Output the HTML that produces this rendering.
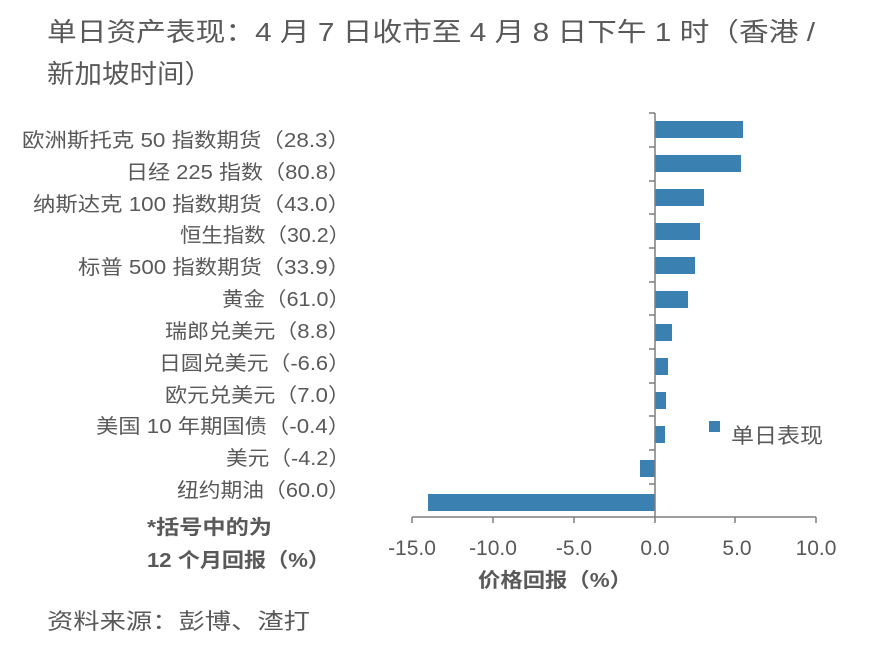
<!DOCTYPE html>
<html><head><meta charset="utf-8"><style>
body{margin:0;background:#fff;}
svg text{font-family:"Liberation Sans","Noto Sans CJK SC",sans-serif;fill:#595959;}
</style></head><body>
<svg width="874" height="656" xmlns="http://www.w3.org/2000/svg">
<text x="47" y="41" font-size="26" textLength="768" lengthAdjust="spacingAndGlyphs">单日资产表现：4 月 7 日收市至 4 月 8 日下午 1 时（香港 /</text>
<text x="47" y="83" font-size="26" textLength="165" lengthAdjust="spacingAndGlyphs">新加坡时间）</text>
<g font-size="20">
<text x="22" y="147" textLength="328" lengthAdjust="spacingAndGlyphs">欧洲斯托克 50 指数期货（28.3）</text>
<text x="126" y="179" textLength="224" lengthAdjust="spacingAndGlyphs">日经 225 指数（80.8）</text>
<text x="33" y="211" textLength="317" lengthAdjust="spacingAndGlyphs">纳斯达克 100 指数期货（43.0）</text>
<text x="180" y="242" textLength="170" lengthAdjust="spacingAndGlyphs">恒生指数（30.2）</text>
<text x="78" y="274" textLength="272" lengthAdjust="spacingAndGlyphs">标普 500 指数期货（33.9）</text>
<text x="222" y="306" textLength="128" lengthAdjust="spacingAndGlyphs">黄金（61.0）</text>
<text x="165" y="338" textLength="185" lengthAdjust="spacingAndGlyphs">瑞郎兑美元（8.8）</text>
<text x="159" y="370" textLength="191" lengthAdjust="spacingAndGlyphs">日圆兑美元（-6.6）</text>
<text x="165" y="402" textLength="185" lengthAdjust="spacingAndGlyphs">欧元兑美元（7.0）</text>
<text x="96" y="433" textLength="254" lengthAdjust="spacingAndGlyphs">美国 10 年期国债（-0.4）</text>
<text x="226" y="465" textLength="124" lengthAdjust="spacingAndGlyphs">美元（-4.2）</text>
<text x="177" y="497" textLength="173" lengthAdjust="spacingAndGlyphs">纽约期油（60.0）</text>
</g>
<g font-size="20" font-weight="bold">
<text x="147" y="534" textLength="125" lengthAdjust="spacingAndGlyphs">*括号中的为</text>
<text x="147" y="567" textLength="183" lengthAdjust="spacingAndGlyphs">12 个月回报（%）</text>
</g>
<text x="47" y="629" font-size="22" textLength="263" lengthAdjust="spacingAndGlyphs">资料来源：彭博、渣打</text>
<g fill="#3a80b0">
<rect x="655" y="121" width="88" height="17"/>
<rect x="655" y="155" width="86" height="17"/>
<rect x="655" y="189" width="49" height="17"/>
<rect x="655" y="223" width="45" height="17"/>
<rect x="655" y="257" width="40" height="17"/>
<rect x="655" y="291" width="33" height="17"/>
<rect x="655" y="324" width="17" height="17"/>
<rect x="655" y="358" width="13" height="17"/>
<rect x="655" y="392" width="11" height="17"/>
<rect x="655" y="426" width="10" height="17"/>
<rect x="640" y="460" width="15" height="17"/>
<rect x="428" y="494" width="227" height="17"/>
<rect x="709" y="421" width="11" height="11"/>
</g>
<g stroke="#7f7f7f" stroke-width="1.5" fill="none">
<line x1="655" y1="113" x2="655" y2="517"/>
<line x1="412" y1="517" x2="816" y2="517"/>
<path d="M649 113H655M649 147H655M649 181H655M649 214H655M649 248H655M649 282H655M649 315H655M649 349H655M649 383H655M649 416H655M649 450H655M649 484H655"/>
<path d="M412 517V523M493 517V523M574 517V523M655 517V523M735 517V523M816 517V523"/>
</g>
<g font-size="21" text-anchor="middle">
<text x="412" y="555">-15.0</text>
<text x="493" y="555">-10.0</text>
<text x="574" y="555">-5.0</text>
<text x="655" y="555">0.0</text>
<text x="737" y="555">5.0</text>
<text x="816" y="555">10.0</text>
</g>
<text x="478" y="587" font-size="20" font-weight="bold" textLength="154" lengthAdjust="spacingAndGlyphs">价格回报（%）</text>
<text x="731" y="443" font-size="21" textLength="92" lengthAdjust="spacingAndGlyphs">单日表现</text>
</svg>
</body></html>
